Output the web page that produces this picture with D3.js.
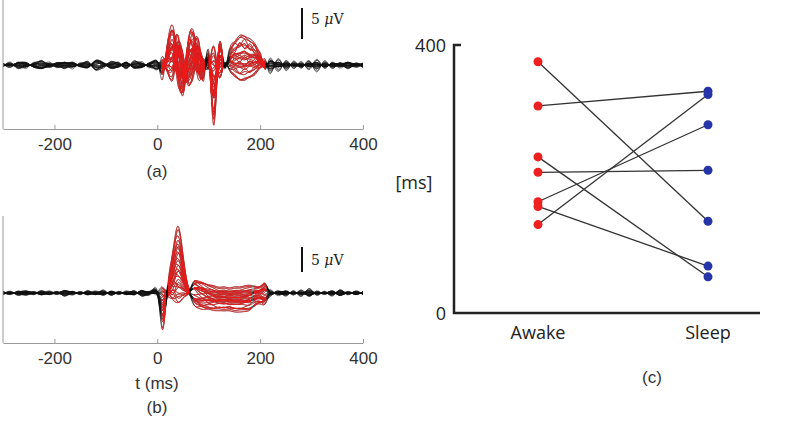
<!DOCTYPE html><html><head><meta charset="utf-8">
<script src="https://cdn.jsdelivr.net/npm/d3@7"></script>
<style>body{margin:0;background:#fff}</style></head><body><svg id="c" width="800" height="422"></svg>
<script>
// ---- panel (c) data ----
const groups = ["Awake","Sleep"];
const awake = [375,309,233,210,166,159,132];
const sleep = [137,331,54,213,281,70,326];
const cTicks = [0,400];
// ---- panels (a),(b) trace templates (µV) at knot times (ms) ----
const tKnots = [-300,-285,-270,-255,-240,-225,-210,-195,-180,-165,-150,-135,-120,-105,-90,-75,-60,-45,-30,-15,0,10,20,30,40,50,60,70,80,90,100,110,120,130,140,150,160,170,180,190,200,210,220,235,250,265,280,295,310,325,340,355,370,385,400];
const noiseA1 = [0.3,-0.4,0.5,-0.3,0.2,-0.6,0.4,-0.2,0.5,-0.4,0.3,-0.5,0.6,-0.3,0.2,-0.4,0.5,-0.6,0.3,-0.2,0.6,-1.5,0.8,-0.5,0.6,-0.7,0.5,-0.6,0.7,-1.2,0.9,-0.6,0.5,-0.4,0.6,-0.5,0.4,-0.6,0.5,-0.4,0.6,-0.8,1.2,-1,0.8,-0.6,0.5,-0.7,1,-0.6,0.5,-0.4,0.5,-0.3,0.4];
const noiseA2 = [-0.2,0.4,-0.3,0.5,-0.4,0.3,-0.5,0.4,-0.3,0.6,-0.4,0.3,-0.2,0.5,-0.5,0.3,-0.3,0.4,-0.5,0.4,-0.3,1,-0.6,0.5,-0.5,0.6,-0.4,0.5,-0.6,1,-0.6,0.5,-0.4,0.5,-0.4,0.5,-0.6,0.4,-0.5,0.6,-0.4,0.7,-0.9,1.1,-0.7,0.6,-0.6,0.8,-0.9,0.5,-0.4,0.5,-0.3,0.4,-0.3];
const waveA1 = [0,0,0,0,0,0,0,0,0,0,0,0,0,0,0,0,0,0,0,0,0,-1,3,5.5,2,-4,1.5,5,2,-1.5,1.5,-8.5,2,0,2,3,3.5,3.5,3.2,2.8,1.5,0,0,0,0,0,0,0,0,0,0,0,0,0,0];
const waveA2 = [0,0,0,0,0,0,0,0,0,0,0,0,0,0,0,0,0,0,0,0,0,1,-2,-3,4,2.5,-4.5,-2,3,1,-1,4,-3,0,-1.5,-2.5,-3,-3,-2.8,-2.5,-1,0,0,0,0,0,0,0,0,0,0,0,0,0,0];
const noiseB1 = [0.3,-0.3,0.4,-0.2,0.3,-0.4,0.3,-0.3,0.5,-0.3,0.3,-0.4,0.3,-0.5,0.4,-0.3,0.3,-0.4,0.5,-0.3,0.4,-0.6,0.8,0.6,0.4,0.3,0.2,0.6,0.5,0.4,0.3,0.3,0.2,0.3,0.2,0.3,0.2,0.3,0.4,0.3,0.4,0.5,0.6,-0.4,0.5,-0.4,0.6,-0.7,0.4,-0.3,0.5,-0.5,0.3,-0.3,0.3];
const noiseB2 = [-0.2,0.3,-0.3,0.4,-0.3,0.3,-0.4,0.3,-0.3,0.4,-0.3,0.3,-0.4,0.4,-0.3,0.3,-0.4,0.3,-0.3,0.4,-0.3,0.4,-0.5,0.4,0.3,0.2,-0.3,0.4,0.6,0.5,0.4,0.3,0.2,0.2,0.1,0.1,0.2,0.3,0.3,0.4,0.3,0.5,-0.6,0.5,-0.4,0.4,-0.6,0.5,-0.4,0.3,-0.4,0.3,-0.3,0.2,-0.2];
const waveB1 = [0,0,0,0,0,0,0,0,0,0,0,0,0,0,0,0,0,0,0,0,0,-5.5,0.5,6,10.5,6,1,0,-0.8,-1.5,-2,-2.4,-2.6,-2.6,-2.7,-2.8,-2.8,-2.6,-2.3,-1.5,-1,-0.3,0,0,0,0,0,0,0,0,0,0,0,0,0];
const waveB2 = [0,0,0,0,0,0,0,0,0,0,0,0,0,0,0,0,0,0,0,0,0,1.5,-1.5,-1,-2.5,-1.5,0,0.3,0.6,0.8,0.6,0.4,0.3,0.2,0.3,0.4,0.4,0.3,0.3,0.2,0.2,0.1,0,0,0,0,0,0,0,0,0,0,0,0,0];
const gains1 = [1,0.95,0.9,0.84,0.78,0.73,0.68,0.63,0.58,0.54,0.5,0.46,0.42,0.38,0.34,0.3,0.27,0.24,0.21,0.18,0.15,0.12,0.09,0.06,0.03,0,-0.04,-0.08,-0.12,-0.16];
const gains2 = [0.1,-0.5,0.8,-0.2,0.5,1,-0.7,0.3,-0.9,0.6,-0.1,0.7,-0.6,0.4,-0.3,0.9,-0.8,0.2,-0.4,0.6,1,-1,0.3,-0.6,0.5,-0.3,0.8,-0.5,0.7,-0.2];
const gainsN = [0.6,-0.4,0.9,-0.8,0.3,1,-0.6,0.5,-1,0.8,-0.2,0.7,-0.9,0.4,-0.5,1,-0.3,0.6,-0.7,0.2,0.9,-1,0.5,-0.6,0.3,-0.8,0.7,-0.4,0.8,-0.1];
const xTicks = [-200,0,200,400];
const redA = [[8,92],[100,128],[142,210]], redB = [[8,17],[21,62],[70,183],[188,212]];

const svg = d3.select("#c");
const font = "Liberation Sans, Arial, sans-serif";
const PX = 6.2; // px per µV

function panel(y0, base, axisY, n1, n2, w1, w2, w2k, nk, reds, barTop, barBot, id){
  const x = d3.scaleLinear().domain([-300,400]).range([3,363]);
  const y = d3.scaleLinear().domain([0,5]).range([base,base-5*PX]);
  const g = svg.append("g");
  const line = d3.line().x(d=>x(d[0])).y(d=>y(d[1])).curve(d3.curveNatural);
  const traces = gains1.map((g1,i)=>tKnots.map((t,k)=>[t,
      g1*w1[k] + w2k*gains2[i]*w2[k] + nk*(gainsN[i]*n1[k] + gains2[i]*n2[k])]));
  traces.forEach(tr=>g.append("path").attr("d",line(tr)).attr("fill","none").attr("stroke","#111").attr("stroke-width",0.7).attr("opacity",0.8));
  reds.forEach(([a,b],ri)=>{
    const clipId="clip"+id+ri;
    svg.append("clipPath").attr("id",clipId).append("rect").attr("x",x(a)).attr("y",y0-20).attr("width",x(b)-x(a)).attr("height",axisY-y0+20);
    traces.forEach(tr=>g.append("path").attr("d",line(tr)).attr("clip-path",`url(#${clipId})`).attr("fill","none").attr("stroke","#ee1c1c").attr("stroke-width",0.7));
  });
  const ax = g.append("g").attr("transform",`translate(0,${axisY})`).call(d3.axisBottom(x).tickValues(xTicks).tickSize(-4).tickSizeOuter(0).tickFormat(d=>String(d)));
  ax.select(".domain").attr("stroke","#999");
  ax.selectAll(".tick line").attr("stroke","#999");
  ax.selectAll("text").attr("font-family",font).attr("font-size",17).attr("fill","#333").attr("dy","1.05em");
  g.append("line").attr("x1",3).attr("x2",3).attr("y1",y0).attr("y2",axisY).attr("stroke","#999");
  g.append("line").attr("x1",302).attr("x2",302).attr("y1",y(barTop)).attr("y2",y(barBot)).attr("stroke","#111").attr("stroke-width",2);
}
function uv(x,y){
  const t=svg.append("text").attr("x",x).attr("y",y).attr("font-family","DejaVu Serif, serif").attr("font-size",14).attr("fill","#222");
  t.append("tspan").text("5 ");
  t.append("tspan").attr("font-style","italic").text("μ");
  t.append("tspan").text("V");
}
panel(0,65,129,noiseA1,noiseA2,waveA1,waveA2,0.8,1.8,redA,9.2,4.2,"a");
uv(311,24);
svg.append("text").attr("x",157).attr("y",177).attr("text-anchor","middle").attr("font-family",font).attr("font-size",17).attr("fill","#333").text("(a)");
panel(216,293,343,noiseB1,noiseB2,waveB1,waveB2,0.6,1.6,redB,7.4,3.4,"b");
uv(311,265);
svg.append("text").attr("x",157).attr("y",389).attr("text-anchor","middle").attr("font-family",font).attr("font-size",17).attr("fill","#333").text("t (ms)");
svg.append("text").attr("x",157).attr("y",413).attr("text-anchor","middle").attr("font-family",font).attr("font-size",17).attr("fill","#333").text("(b)");

// ---- panel (c) ----
const xc = d3.scalePoint().domain(groups).range([538,708]);
const yc = d3.scaleLinear().domain([0,400]).range([313,45]);
const cg = svg.append("g");
awake.forEach((a,i)=>cg.append("line").attr("x1",xc("Awake")).attr("y1",yc(a)).attr("x2",xc("Sleep")).attr("y2",yc(sleep[i])).attr("stroke","#333").attr("stroke-width",1.3));
awake.forEach(a=>cg.append("circle").attr("cx",xc("Awake")).attr("cy",yc(a)).attr("r",4.5).attr("fill","#ee2020"));
sleep.forEach(s=>cg.append("circle").attr("cx",xc("Sleep")).attr("cy",yc(s)).attr("r",4.5).attr("fill","#2535a8"));
cg.append("path").attr("d",`M461,${yc(400)}H454V313H760`).attr("fill","none").attr("stroke","#222").attr("stroke-width",2.5);
cTicks.forEach(t=>cg.append("text").attr("x",446).attr("y",yc(t)+7).attr("text-anchor","end").attr("font-family","Open Sans, sans-serif").attr("font-size",18).attr("fill","#222").text(t));
cg.append("text").attr("x",414).attr("y",189).attr("text-anchor","middle").attr("font-family","Open Sans, sans-serif").attr("font-size",18).attr("fill","#222").text("[ms]");
groups.forEach(gr=>cg.append("text").attr("x",xc(gr)).attr("y",339).attr("text-anchor","middle").attr("font-family","Open Sans, sans-serif").attr("font-size",18).attr("fill","#222").text(gr));
cg.append("text").attr("x",652).attr("y",383).attr("text-anchor","middle").attr("font-family",font).attr("font-size",17).attr("fill","#333").text("(c)");
</script></body></html>
